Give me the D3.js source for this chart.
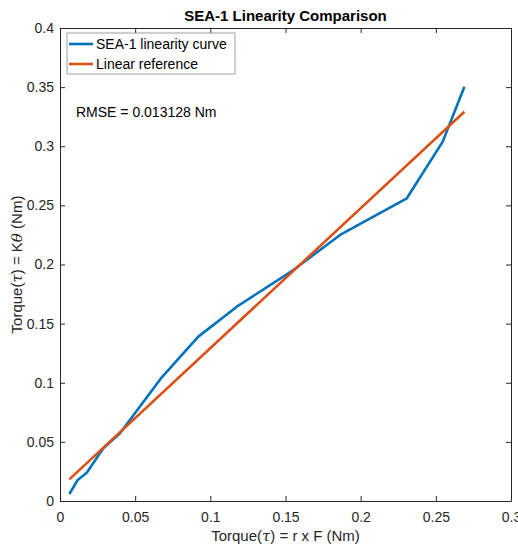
<!DOCTYPE html>
<html>
<head>
<meta charset="utf-8">
<script src="https://cdn.jsdelivr.net/npm/d3@7"></script>
<style>
    body { margin: 0; background: #fff; }
    svg { font-family: "Liberation Sans", Arial, Helvetica, sans-serif; }
</style>
</head>
<body>
<svg id="chart" width="518" height="546"></svg>
<script>
const torqueForce = [0.0062, 0.0118, 0.0178, 0.0288, 0.0399, 0.0677, 0.092, 0.1176, 0.1552, 0.1863, 0.2307, 0.2546, 0.269];
const torqueSpring = [0.0059, 0.0178, 0.0239, 0.0446, 0.0573, 0.1046, 0.139, 0.1643, 0.1953, 0.2250, 0.2560, 0.3039, 0.3504];
// linear reference end points
const refX = [0.0062, 0.269];
const refY = [0.0183, 0.3292];
const xTicks = [0, 0.05, 0.1, 0.15, 0.2, 0.25, 0.3];
const yTicks = [0, 0.05, 0.1, 0.15, 0.2, 0.25, 0.3, 0.35, 0.4];
const seriesNames = ["SEA-1 linearity curve", "Linear reference"];
const colors = ["#0072BD", "#D95319"];

const svg = d3.select("#chart");
const margin = { left: 60, top: 28, right: 7, bottom: 45 };
const W = 518, H = 546;
const x = d3.scaleLinear().domain([0, 0.3]).range([margin.left, W - margin.right]);
const y = d3.scaleLinear().domain([0, 0.4]).range([H - margin.bottom, margin.top]);

const tickLen = 5;

// axes (ticks inside, box on)
const xAxis = svg.append("g").attr("transform", `translate(0,${y(0)})`)
    .call(d3.axisBottom(x).tickValues(xTicks).tickSizeInner(-tickLen).tickSizeOuter(0)
        .tickFormat(d => d3.format("~g")(d)));
xAxis.selectAll("text").attr("dy", "1.1em").attr("y", 6);
svg.append("g").attr("transform", `translate(0,${y(0.4)})`)
    .call(d3.axisTop(x).tickValues(xTicks).tickSizeInner(-tickLen).tickSizeOuter(0).tickFormat(""));
const yAxis = svg.append("g").attr("transform", `translate(${x(0)},0)`)
    .call(d3.axisLeft(y).tickValues(yTicks).tickSizeInner(-tickLen).tickSizeOuter(0)
        .tickFormat(d => d3.format("~g")(d)));
yAxis.selectAll("text").attr("x", -6);
svg.append("g").attr("transform", `translate(${x(0.3)},0)`)
    .call(d3.axisRight(y).tickValues(yTicks).tickSizeInner(-tickLen).tickSizeOuter(0).tickFormat(""));

svg.selectAll(".domain").attr("stroke", "#262626");
svg.selectAll(".tick line").attr("stroke", "#262626");
svg.selectAll(".tick text").attr("fill", "#262626").style("font-size", "14px")
    .style("font-family", "'Liberation Sans', Arial, sans-serif");

// data lines
const line = d3.line().x(d => x(d[0])).y(d => y(d[1]));
svg.append("path")
    .datum(torqueForce.map((v, i) => [v, torqueSpring[i]]))
    .attr("d", line).attr("fill", "none")
    .attr("stroke", colors[0]).attr("stroke-width", 2.6).attr("stroke-linejoin", "round");
svg.append("path")
    .datum(refX.map((v, i) => [v, refY[i]]))
    .attr("d", line).attr("fill", "none")
    .attr("stroke", colors[1]).attr("stroke-width", 2.6);

// title
svg.append("text").attr("x", (x(0) + x(0.3)) / 2).attr("y", 21)
    .attr("text-anchor", "middle").style("font-size", "15px").style("font-weight", "bold")
    .attr("fill", "#000").text("SEA-1 Linearity Comparison");

// x label
const xl = svg.append("text").attr("x", (x(0) + x(0.3)) / 2).attr("y", 541)
    .attr("text-anchor", "middle").style("font-size", "15px").attr("fill", "#262626");
xl.append("tspan").text("Torque(");
xl.append("tspan").style("font-style", "italic").style("font-family", "'DejaVu Serif', serif").text("τ");
xl.append("tspan").text(") = r x F (Nm)");

// y label
const yl = svg.append("text")
    .attr("transform", `translate(22,${(y(0) + y(0.4)) / 2}) rotate(-90)`)
    .attr("text-anchor", "middle").style("font-size", "15px").attr("fill", "#262626");
yl.append("tspan").text("Torque(");
yl.append("tspan").style("font-style", "italic").style("font-family", "'DejaVu Serif', serif").text("τ");
yl.append("tspan").text(") = K");
yl.append("tspan").style("font-style", "italic").style("font-family", "'DejaVu Serif', serif").text("θ");
yl.append("tspan").text(" (Nm)");

// legend
const lg = svg.append("g").attr("transform", "translate(67,33)");
lg.append("rect").attr("width", 168).attr("height", 41)
    .attr("fill", "#fff").attr("stroke", "#a0a0a0").attr("stroke-width", 1);
seriesNames.forEach((name, i) => {
    const yy = 11 + i * 20;
    lg.append("line").attr("x1", 2).attr("x2", 26).attr("y1", yy).attr("y2", yy)
        .attr("stroke", colors[i]).attr("stroke-width", 2.6);
    lg.append("text").attr("x", 29).attr("y", yy + 5).style("font-size", "14px")
        .attr("fill", "#000").text(name);
});

// RMSE annotation
svg.append("text").attr("x", 76).attr("y", 117).style("font-size", "14px")
    .attr("fill", "#000").text("RMSE = 0.013128 Nm");
</script>
</body>
</html>
